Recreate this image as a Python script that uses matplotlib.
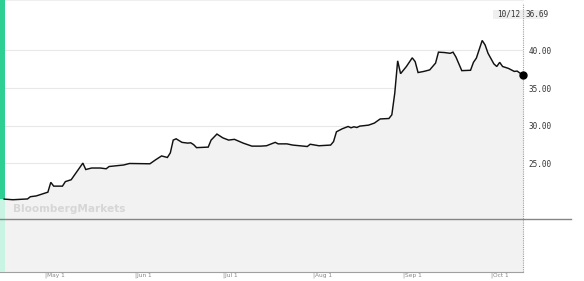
import matplotlib
matplotlib.use("Agg")
import matplotlib.pyplot as plt
import matplotlib.dates as mdates
from matplotlib.patches import Rectangle
from matplotlib.lines import Line2D
import matplotlib.transforms as mtransforms
import pandas as pd

# ---- data ----
dates = ["2018-04-17", "2018-04-20", "2018-04-25", "2018-04-26", "2018-04-28",
         "2018-05-02", "2018-05-03", "2018-05-04", "2018-05-07", "2018-05-08",
         "2018-05-10", "2018-05-14", "2018-05-15", "2018-05-17", "2018-05-20",
         "2018-05-22", "2018-05-23", "2018-05-28", "2018-05-30", "2018-06-06",
         "2018-06-08", "2018-06-10", "2018-06-12", "2018-06-13", "2018-06-14",
         "2018-06-15", "2018-06-17", "2018-06-19", "2018-06-20", "2018-06-21",
         "2018-06-22", "2018-06-26", "2018-06-27", "2018-06-29", "2018-07-01",
         "2018-07-03", "2018-07-05", "2018-07-08", "2018-07-11", "2018-07-14",
         "2018-07-16", "2018-07-19", "2018-07-20", "2018-07-23", "2018-07-25",
         "2018-07-30", "2018-07-31", "2018-08-03", "2018-08-07", "2018-08-08",
         "2018-08-09", "2018-08-11", "2018-08-13", "2018-08-14", "2018-08-15",
         "2018-08-16", "2018-08-17", "2018-08-20", "2018-08-22", "2018-08-24",
         "2018-08-27", "2018-08-28", "2018-08-29", "2018-08-30", "2018-08-31",
         "2018-09-02", "2018-09-04", "2018-09-05", "2018-09-06", "2018-09-08",
         "2018-09-10", "2018-09-12", "2018-09-13", "2018-09-15", "2018-09-17",
         "2018-09-18", "2018-09-19", "2018-09-21", "2018-09-24", "2018-09-25",
         "2018-09-26", "2018-09-28", "2018-09-29", "2018-09-30", "2018-10-02",
         "2018-10-03", "2018-10-04", "2018-10-05", "2018-10-07", "2018-10-09",
         "2018-10-10", "2018-10-12"]
prices = [20.28, 20.2, 20.3, 20.6, 20.7,
          21.2, 22.5, 22.0, 22.0, 22.6,
          22.85, 25.05, 24.2, 24.4, 24.4,
          24.3, 24.6, 24.8, 25.0, 24.96,
          25.5, 26.0, 25.8, 26.4, 28.1,
          28.27, 27.8, 27.7, 27.74, 27.5,
          27.1, 27.17, 28.1, 28.9, 28.4,
          28.1, 28.2, 27.7, 27.3, 27.3,
          27.35, 27.8, 27.6, 27.6, 27.44,
          27.25, 27.55, 27.35, 27.44, 27.9,
          29.2, 29.6, 29.9, 29.73, 29.86,
          29.77, 29.95, 30.08, 30.35, 30.9,
          30.96, 31.45, 34.3, 38.6, 36.9,
          37.85, 39.0, 38.5, 37.05, 37.2,
          37.4, 38.3, 39.75, 39.7, 39.6,
          39.75, 39.1, 37.3, 37.35, 38.4,
          38.96, 41.3, 40.7, 39.6, 38.2,
          37.85, 38.4, 37.85, 37.6, 37.2,
          37.24, 36.69]
ytick_values = [25, 30, 35, 40]
ytick_labels = ["25.00", "30.00", "35.00", "40.00"]
xtick_dates = ["2018-05-01", "2018-06-01", "2018-07-01", "2018-08-01", "2018-09-01", "2018-10-01"]
xtick_labels = ["|May 1", "|Jun 1", "|Jul 1", "|Aug 1", "|Sep 1", "|Oct 1"]
last_date_label = "10/12"
last_value_label = "36.69"

W, H = 584, 281
fig = plt.figure(figsize=(W / 100, H / 100), dpi=100)
fig.patch.set_facecolor("white")

ax_bottom_px = 271.5
ax_right_px = 523
ax = fig.add_axes([0, (H - ax_bottom_px) / H, ax_right_px / W, ax_bottom_px / H])
ax.set_facecolor("white")

d = pd.to_datetime(dates)
dnum = mdates.date2num(d)
may1 = mdates.date2num(pd.Timestamp("2018-05-01"))
px_per_day = 2.917
xleft = may1 - 45 / px_per_day
xright = mdates.date2num(pd.Timestamp("2018-10-12"))
ymin, ymax = 10.69, 46.66
ax.set_xlim(xleft, xright)
ax.set_ylim(ymin, ymax)

# top-right label box (drawn first so the cursor line passes over it)
fig.add_artist(Rectangle((493 / W, 1 - 18.5 / H), (544 - 493) / W, 8.5 / H,
                         transform=fig.transFigure, color="#efefef", lw=0, zorder=-1))
ax.set_zorder(1)
ax.patch.set_alpha(0)
fig.add_artist(Rectangle((0, (H - ax_bottom_px) / H), ax_right_px / W, (ax_bottom_px - 19) / H,
                         transform=fig.transFigure, color="white", lw=0, zorder=-2))

# fill + line
ax.fill_between(dnum, prices, ymin, color="#f2f2f2", zorder=1, linewidth=0)
ax.plot(dnum, prices, color="#111111", lw=1.05, zorder=4, solid_joinstyle="miter")

# dotted cursor line at last date, then marker on top
ax.plot([xright, xright], [ymin, ymax - 3 / 7.547], color="#a0a0a0", lw=0.8,
        ls=(0, (1, 1)), zorder=8, clip_on=False)
ax.plot([dnum[-1]], [prices[-1]], marker="o", color="black", ms=5, zorder=9, clip_on=False)

# grid
for v in ytick_values:
    ax.axhline(v, color="#e8e8e8", lw=0.8, zorder=0.5)

# green bar on left
bt = mtransforms.blended_transform_factory(ax.transAxes, ax.transData)
bw = 5 / ax_right_px
ax.add_patch(Rectangle((0, prices[0]), bw, ymax - prices[0], transform=bt,
                       color="#2fcf93", lw=0, zorder=3))
ax.add_patch(Rectangle((0, ymin), bw, prices[0] - ymin, transform=bt,
                       color="#c9f3e2", lw=0, zorder=3))

# watermark
ax.text(13 / W, 1 - 209 / H, "BloombergMarkets", transform=fig.transFigure,
        fontsize=7.6, fontweight="bold", color="#d6d6d6", va="center", ha="left",
        zorder=2, family="DejaVu Sans")

# spines
ax.spines["left"].set_visible(False)
ax.spines["right"].set_visible(False)
ax.spines["top"].set_color("#efefef")
ax.spines["top"].set_linewidth(0.8)
ax.spines["bottom"].set_color("#a0a0a0")
ax.spines["bottom"].set_linewidth(0.8)

# y ticks on right
ax.yaxis.tick_right()
ax.set_yticks(ytick_values)
ax.set_yticklabels(ytick_labels)
ax.tick_params(axis="y", length=0, pad=3.8, labelsize=5.5, labelcolor="#333333")
for t in ax.get_yticklabels():
    t.set_family("DejaVu Sans Mono")

# x ticks
ax.set_xticks(mdates.date2num(pd.to_datetime(xtick_dates)))
ax.set_xticklabels(xtick_labels)
ax.tick_params(axis="x", length=0, pad=1.0, labelsize=4.2, labelcolor="#888888")
for t in ax.get_xticklabels():
    t.set_horizontalalignment("left")

# horizontal separator line
fig.add_artist(Line2D([0, 571 / W], [1 - 218.7 / H] * 2, color="#858585", lw=1.0,
                      transform=fig.transFigure, zorder=6))

# top-right texts
fig.text(520 / W, 1 - 14.3 / H, last_date_label, ha="right", va="center", fontsize=5.5,
         color="#333333", family="DejaVu Sans Mono", zorder=0)
fig.text(525.5 / W, 1 - 14.3 / H, last_value_label, ha="left", va="center", fontsize=5.5,
         color="#333333", family="DejaVu Sans Mono", zorder=0)

fig.savefig("out.png", dpi=100, facecolor="white")
